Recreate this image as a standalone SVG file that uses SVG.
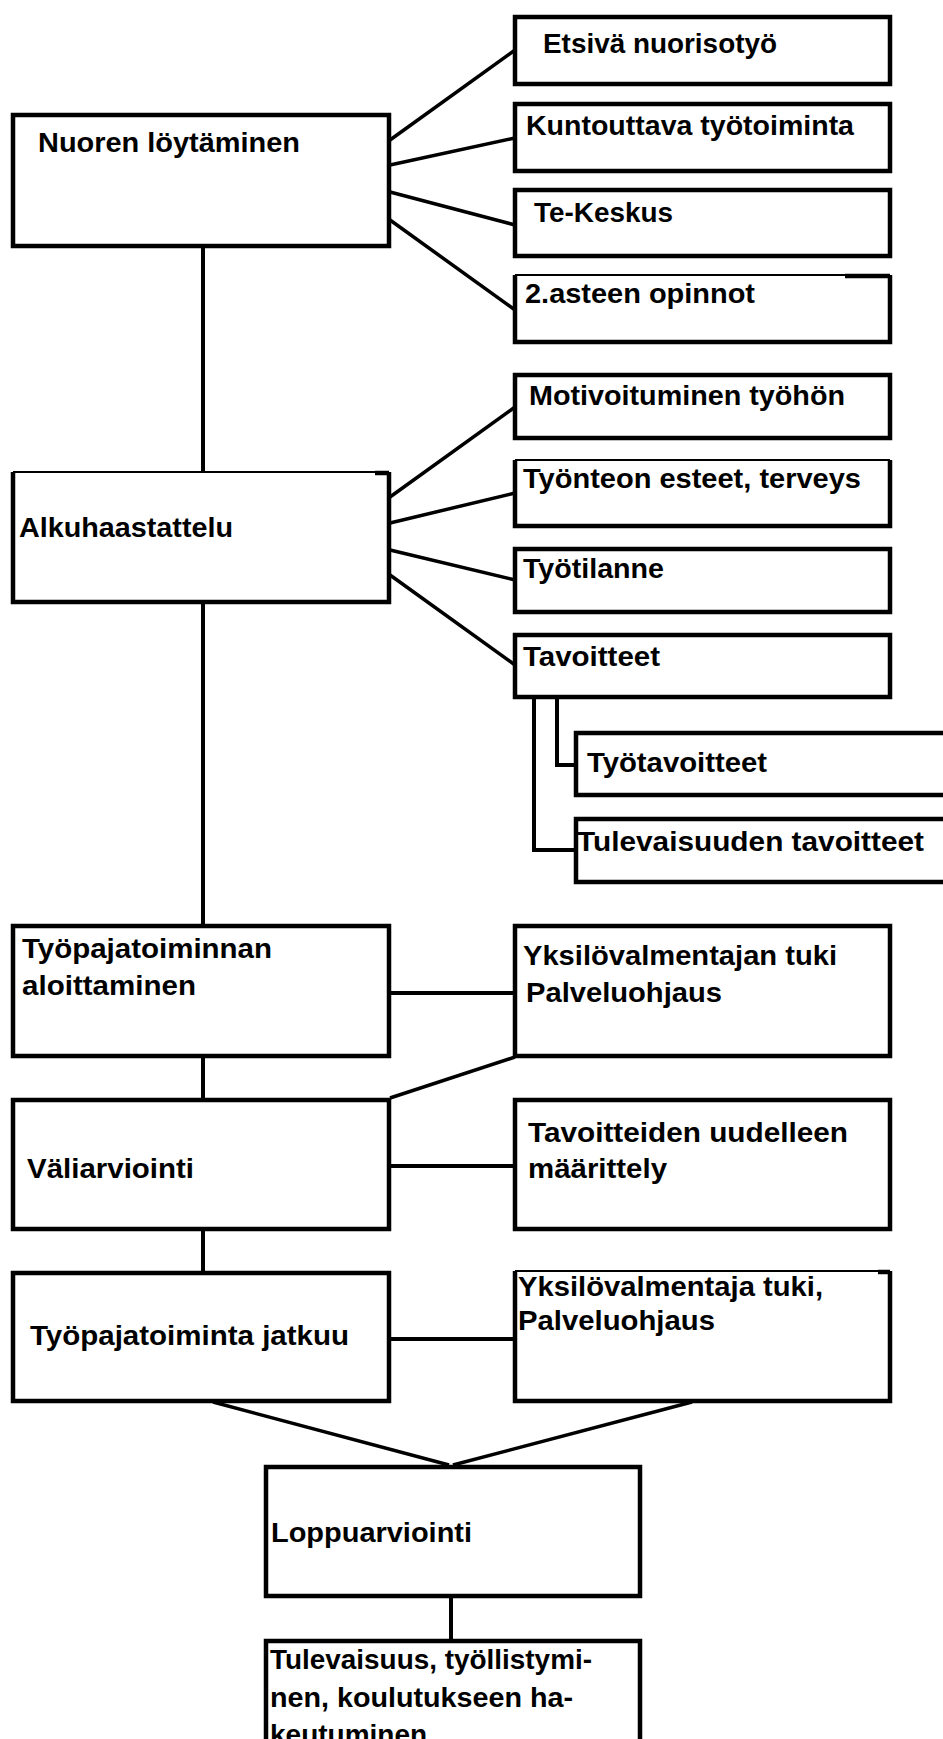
<svg xmlns="http://www.w3.org/2000/svg" width="943" height="1739" viewBox="0 0 943 1739">
<style>
.box{fill:#fff;stroke:#000;stroke-width:4.5}
.side{fill:none;stroke:#000;stroke-width:4.5}
.thin{fill:none;stroke:#000;stroke-width:2}
.c{fill:none;stroke:#000;stroke-width:4}
.d{fill:none;stroke:#000;stroke-width:3.5}
text{font-family:"Liberation Sans",Arial,sans-serif;font-weight:bold;font-size:28px;fill:#000}
</style>
<rect width="943" height="1739" fill="#fff"/>
<g id="connectors">
<path class="c" d="M203,247V471M203,603V924M203,1057V1098M203,1230V1272M451,1597V1640"/>
<path class="d" d="M390,140L515,50M390,165L515,138M390,192L515,225M390,220L515,310"/>
<path class="d" d="M390,497L515,407M390,523L515,493M390,550L515,580M390,575L515,665"/>
<path class="c" d="M534,698V850H576M557,698V765H576"/>
<path class="c" d="M390,993H515M390,1166H515M390,1339H515"/>
<path class="d" d="M515,1057L390,1098"/>
<path class="d" d="M213,1402L449,1465M692,1402L453,1465"/>
</g>
<g id="n1"><rect class="box" x="13" y="115" width="376" height="131"/><text x="38" y="152" textLength="262" lengthAdjust="spacingAndGlyphs">Nuoren löytäminen</text></g>
<g id="n2"><rect class="box" x="515" y="17" width="375" height="67"/><text x="543" y="53" textLength="234" lengthAdjust="spacingAndGlyphs">Etsivä nuorisotyö</text></g>
<g id="n3"><rect class="box" x="515" y="104" width="375" height="67"/><text x="526" y="135" textLength="328" lengthAdjust="spacingAndGlyphs">Kuntouttava työtoiminta</text></g>
<g id="n4"><rect class="box" x="515" y="190" width="375" height="66"/><text x="534" y="222" textLength="139" lengthAdjust="spacingAndGlyphs">Te-Keskus</text></g>
<g id="n5"><rect x="515" y="275" width="375" height="67" fill="#fff"/><path class="side" d="M515,275V342H890V275"/><path class="thin" d="M515,275H890"/><path class="side" d="M845,276H890"/><text x="525" y="303" textLength="230" lengthAdjust="spacingAndGlyphs">2.asteen opinnot</text></g>
<g id="n6"><rect x="13" y="472" width="376" height="130" fill="#fff"/><path class="side" d="M13,472V602H389V472"/><path class="thin" d="M13,472H389"/><path class="side" d="M375,473H389"/><text x="19" y="537" textLength="214" lengthAdjust="spacingAndGlyphs">Alkuhaastattelu</text></g>
<g id="n7"><rect class="box" x="515" y="375" width="375" height="63"/><text x="529" y="405" textLength="316" lengthAdjust="spacingAndGlyphs">Motivoituminen työhön</text></g>
<g id="n8"><rect x="515" y="460" width="375" height="66" fill="#fff"/><path class="side" d="M515,460V526H890V460"/><path class="thin" d="M515,460H890"/><text x="523" y="488" textLength="338" lengthAdjust="spacingAndGlyphs">Työnteon esteet, terveys</text></g>
<g id="n9"><rect class="box" x="515" y="549" width="375" height="63"/><text x="523" y="578" textLength="141" lengthAdjust="spacingAndGlyphs">Työtilanne</text></g>
<g id="n10"><rect class="box" x="515" y="635" width="375" height="62"/><text x="523" y="666" textLength="137" lengthAdjust="spacingAndGlyphs">Tavoitteet</text></g>
<g id="n11"><rect class="box" x="576" y="733" width="380" height="62"/><text x="587" y="772" textLength="180" lengthAdjust="spacingAndGlyphs">Työtavoitteet</text></g>
<g id="n12"><rect class="box" x="576" y="819" width="380" height="63"/><text x="577" y="851" textLength="347" lengthAdjust="spacingAndGlyphs">Tulevaisuuden tavoitteet</text></g>
<g id="n13"><rect class="box" x="13" y="926" width="376" height="130"/><text x="22" y="958" textLength="250" lengthAdjust="spacingAndGlyphs">Työpajatoiminnan</text><text x="22" y="995" textLength="174" lengthAdjust="spacingAndGlyphs">aloittaminen</text></g>
<g id="n14"><rect class="box" x="515" y="926" width="375" height="130"/><text x="523" y="965" textLength="314" lengthAdjust="spacingAndGlyphs">Yksilövalmentajan tuki</text><text x="526" y="1002" textLength="196" lengthAdjust="spacingAndGlyphs">Palveluohjaus</text></g>
<g id="n15"><rect class="box" x="13" y="1100" width="376" height="129"/><text x="27" y="1178" textLength="167" lengthAdjust="spacingAndGlyphs">Väliarviointi</text></g>
<g id="n16"><rect class="box" x="515" y="1100" width="375" height="129"/><text x="528" y="1142" textLength="320" lengthAdjust="spacingAndGlyphs">Tavoitteiden uudelleen</text><text x="528" y="1178" textLength="139" lengthAdjust="spacingAndGlyphs">määrittely</text></g>
<g id="n17"><rect class="box" x="13" y="1273" width="376" height="128"/><text x="30" y="1345" textLength="319" lengthAdjust="spacingAndGlyphs">Työpajatoiminta jatkuu</text></g>
<g id="n18"><rect x="515" y="1271" width="375" height="130" fill="#fff"/><path class="side" d="M515,1271V1401H890V1271"/><path class="thin" d="M515,1271H890"/><path class="side" d="M878,1272H890"/><text x="518" y="1296" textLength="305" lengthAdjust="spacingAndGlyphs">Yksilövalmentaja tuki,</text><text x="518" y="1330" textLength="197" lengthAdjust="spacingAndGlyphs">Palveluohjaus</text></g>
<g id="n19"><rect class="box" x="266" y="1467" width="374" height="129"/><text x="271" y="1542" textLength="201" lengthAdjust="spacingAndGlyphs">Loppuarviointi</text></g>
<g id="n20"><rect x="266" y="1641" width="374" height="110" fill="#fff"/><path class="side" d="M266,1745V1641H640V1745"/><text x="270" y="1669" textLength="322" lengthAdjust="spacingAndGlyphs">Tulevaisuus, työllistymi-</text><text x="270" y="1707" textLength="303" lengthAdjust="spacingAndGlyphs">nen, koulutukseen ha-</text><text x="270" y="1744">keutuminen</text></g>
</svg>
